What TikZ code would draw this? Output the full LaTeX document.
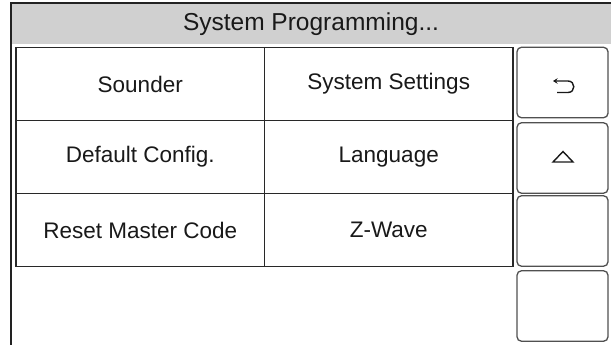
\documentclass[tikz,border=0pt]{standalone}
\usepackage{fontspec}
\setmainfont{Liberation Sans}
\usetikzlibrary{arrows.meta,calc}
\definecolor{headgray}{RGB}{208,208,208}
\definecolor{frameline}{RGB}{34,34,34}
\definecolor{gridline}{RGB}{40,40,40}
\definecolor{btnline}{RGB}{80,80,80}
\tikzset{
  cell/.style={draw=gridline, line width=1.4pt, minimum width=248.5pt, minimum height=73pt,
    inner sep=0pt, outer sep=0pt, font=\fontsize{22.5}{26}\selectfont, text=black!90},
  sidebtn/.style={draw=btnline, line width=1.3pt, rounded corners=4.5pt, minimum width=91pt,
    minimum height=70.5pt, inner sep=0pt, outer sep=0pt},
  title/.style={font=\fontsize{24.5}{28}\selectfont, text=black!90, inner sep=0pt},
  icon/.style={draw=black!90, line width=1.4pt}
}
\begin{document}
\begin{tikzpicture}[x=1pt, y=-1pt]
\useasboundingbox (0,0) rectangle (611,345);
\fill[white] (0,0) rectangle (611,345);

% title bar and window frame
\fill[headgray] (11,4) rectangle (611,44);
\draw[frameline, line width=2pt] (11,345) -- (11,3.5) -- (611,3.5);
\node[title] (head) at (311,24) {System Programming...};

% menu grid
\node[cell] (sounder)  at (140.25,84)  {Sounder};
\node[cell] (settings) at (388.75,84)  {System Settings};
\node[cell] (defcfg)   at (140.25,157) {Default Config.};
\node[cell] (lang)     at (388.75,157) {Language};
\node[cell] (reset)    at (140.25,230) {Reset Master Code};
\node[cell] (zwave)    at (388.75,230) {Z-Wave};

% side buttons
\node[sidebtn] (back)  at (562.5,82.5)  {};
\node[sidebtn] (up)    at (562.5,158)   {};
\node[sidebtn] (btn3)  at (562.5,231)   {};
\node[sidebtn] (btn4)  at (562.5,306)   {};

% return icon: hook running right, round the bend, back left to an arrow tip
\draw[icon, -{Stealth[length=4.5pt,width=5.5pt]}]
  ($(back.center)+(-5.5,10)$) -- ($(back.center)+(5.5,10)$)
  .. controls ($(back.center)+(13.2,10)$) and ($(back.center)+(13.2,-1.5)$)
  .. ($(back.center)+(5.5,-1.5)$) -- ($(back.center)+(-9.5,-1.5)$);

% up icon
\draw[icon, line join=miter]
  ($(up.center)+(-9.5,4)$) -- ($(up.center)+(0.5,-6.5)$)
  -- ($(up.center)+(10.5,4)$) -- cycle;
\end{tikzpicture}
\end{document}
